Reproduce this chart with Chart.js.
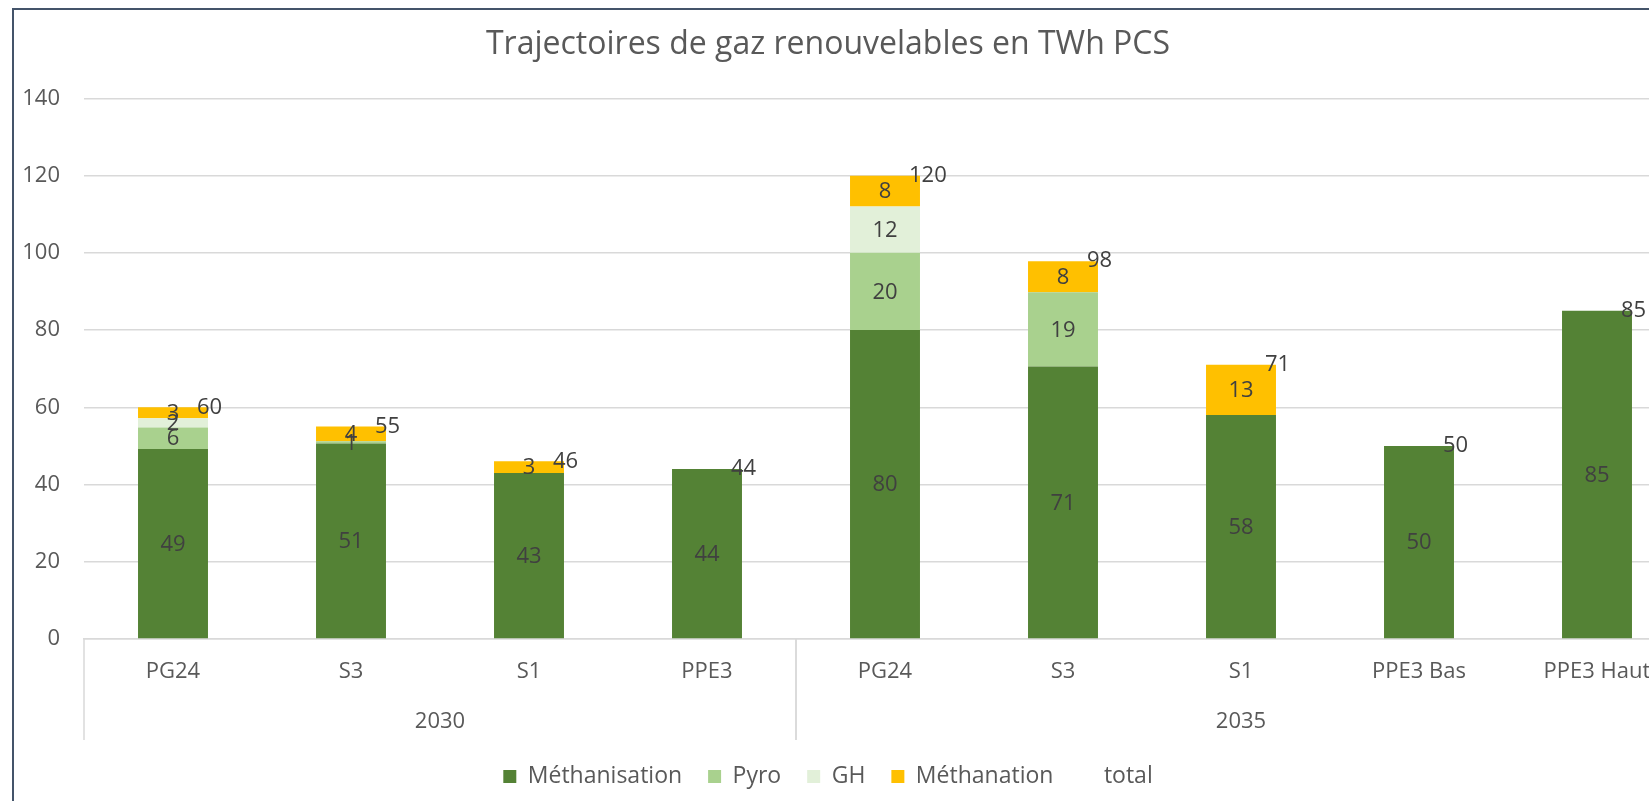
<!DOCTYPE html>
<html>
<head>
<meta charset="utf-8">
<title>Trajectoires de gaz renouvelables</title>
<script src="https://cdn.jsdelivr.net/npm/chart.js@4.4.1/dist/chart.umd.min.js"></script>
<style>
    html, body { margin: 0; padding: 0; background: #fff; overflow: hidden; }
    #frame { position: relative; width: 1649px; height: 801px; overflow: hidden; background: #fff; }
    #chartBox { position: absolute; left: -30px; top: 0; width: 1716px; height: 801px; }
    #border { position: absolute; left: 12px; top: 8px; right: -10px; bottom: -10px;
              border-left: 2px solid #44546a; border-top: 2px solid #44546a; pointer-events: none; }
</style>
</head>
<body>
<div id="frame">
    <div id="chartBox"><canvas id="gasChart"></canvas></div>
    <div id="border"></div>
</div>
<script>
// categories and their year groups
const categories = ['PG24', 'S3', 'S1', 'PPE3', 'PG24', 'S3', 'S1', 'PPE3 Bas', 'PPE3 Haut'];
const years = ['2030', '2035'];
const yearSizes = [4, 5];

// TWh PCS
const methanisation = [49.2, 50.6, 43, 44, 80, 70.6, 58, 50, 85];
const pyro = [5.6, 0.6, 0, 0, 20, 19.2, 0, 0, 0];
const gh = [2.4, 0, 0, 0, 12, 0, 0, 0, 0];
const methanation = [2.8, 3.8, 3, 0, 8, 8, 13, 0, 0];
const total = [60, 55, 46, 44, 120, 98, 71, 50, 85];

const yMax = 140;
const yStep = 20;

Chart.defaults.font.family = "'Open Sans', sans-serif";
Chart.defaults.color = '#595959';

// values inside the segments, totals to the right of the stack top
const valueLabels = {
    id: 'valueLabels',
    afterDatasetsDraw(chart) {
        const ctx = chart.ctx;
        ctx.save();
        ctx.font = "22px 'Open Sans', sans-serif";
        ctx.fillStyle = '#404040';
        ctx.textBaseline = 'middle';
        chart.data.datasets.forEach((ds, i) => {
            const meta = chart.getDatasetMeta(i);
            meta.data.forEach((el, j) => {
                const v = Math.round(ds.data[j]);
                if (!v) return;
                if (ds.type === 'line') {
                    ctx.textAlign = 'left';
                    ctx.fillText(String(v), el.x + 24, el.y);
                } else {
                    const c = el.getCenterPoint();
                    ctx.textAlign = 'center';
                    ctx.fillText(String(v), c.x, c.y + 1);
                }
            });
        });
        ctx.restore();
    }
};

// second level of the category axis (years)
const yearAxis = {
    id: 'yearAxis',
    afterDraw(chart) {
        const x = chart.scales.x;
        const ctx = chart.ctx;
        const step = x.getPixelForValue(1) - x.getPixelForValue(0);
        ctx.save();
        ctx.strokeStyle = '#d9d9d9';
        ctx.lineWidth = 1.5;
        ctx.fillStyle = '#595959';
        ctx.font = "22px 'Open Sans', sans-serif";
        ctx.textAlign = 'center';
        ctx.textBaseline = 'middle';
        let start = 0;
        years.forEach((label, g) => {
            const left = x.getPixelForValue(start) - step / 2;
            const right = x.getPixelForValue(start + yearSizes[g] - 1) + step / 2;
            [left, right].forEach(px => {
                ctx.beginPath();
                ctx.moveTo(px, x.top);
                ctx.lineTo(px, x.top + 101);
                ctx.stroke();
            });
            ctx.fillText(label, (left + right) / 2, x.top + 83);
            start += yearSizes[g];
        });
        ctx.restore();
    }
};

new Chart(document.getElementById('gasChart'), {
    type: 'bar',
    data: {
        labels: categories,
        datasets: [
            { label: 'Méthanisation', data: methanisation, backgroundColor: '#548235' },
            { label: 'Pyro', data: pyro, backgroundColor: '#a9d18e' },
            { label: 'GH', data: gh, backgroundColor: '#e2f0d9' },
            { label: 'Méthanation', data: methanation, backgroundColor: '#ffc000' },
            {
                type: 'line', label: 'total', data: total, showLine: false, pointRadius: 0,
                borderColor: 'transparent', backgroundColor: 'transparent'
            }
        ]
    },
    options: {
        responsive: true,
        maintainAspectRatio: false,
        animation: false,
        layout: { padding: { top: 0, right: 0, bottom: 3, left: 0 } },
        datasets: { bar: { categoryPercentage: 1, barPercentage: 0.393 } },
        plugins: {
            title: {
                display: true,
                text: 'Trajectoires de gaz renouvelables en TWh PCS',
                color: '#595959',
                font: { size: 32, weight: 'normal' },
                padding: { top: 26, bottom: 34 }
            },
            legend: {
                position: 'bottom',
                labels: { font: { size: 23 }, boxWidth: 13, boxHeight: 13, padding: 26, color: '#595959' }
            },
            tooltip: { enabled: false }
        },
        scales: {
            x: {
                stacked: true,
                grid: { display: false, drawTicks: false },
                border: { color: '#d9d9d9', width: 1.5 },
                ticks: { font: { size: 22 }, padding: 20 },
                afterFit: s => { s.height = 100; }
            },
            y: {
                stacked: true,
                min: 0,
                max: yMax,
                ticks: { stepSize: yStep, font: { size: 22 }, padding: 24 },
                grid: { color: '#d9d9d9', lineWidth: 1.5, drawTicks: false },
                border: { display: false },
                afterFit: s => { s.width = 114; }
            }
        }
    },
    plugins: [valueLabels, yearAxis]
});
</script>
</body>
</html>
